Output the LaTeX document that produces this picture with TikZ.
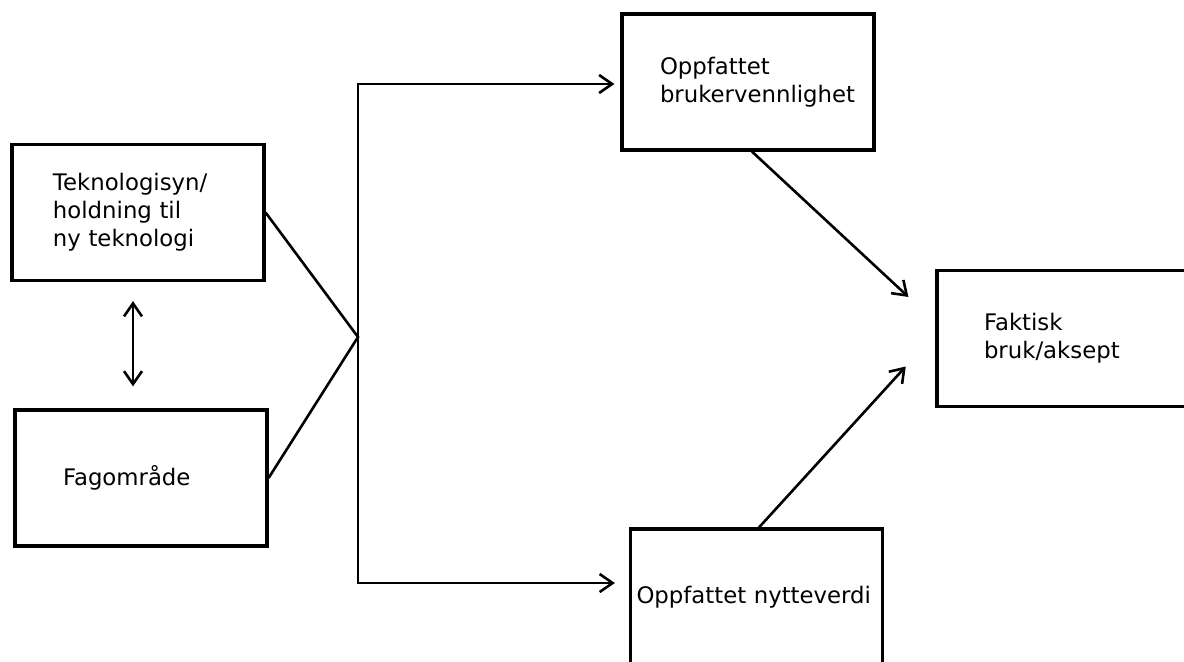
\documentclass[tikz,border=0pt]{standalone}
\usepackage{fontspec}
\setmainfont{DejaVu Sans}
\usepackage{tikz}
\usetikzlibrary{arrows.meta}
\tikzstyle{boks} = [
    draw=black,
    line width=1.6pt,
    rectangle,
    minimum width=126pt,
    minimum height=68pt,
    inner sep=0pt,
    align=left,
    font=\fontsize{11.4pt}{14pt}\selectfont
    ]
\tikzstyle{pil} = [
    line width=1.3pt,
    -{Straight Barb[length=6.5pt,width=9pt,line width=1.3pt]}
    ]

\begin{document}
\begin{tikzpicture}[x=0.5pt,y=-0.5pt]
\useasboundingbox (0,0) rectangle (1184,661);
% boxes
\node[boks, text width=85pt] (tekno) at (138,212.5) {Teknologisyn/\\holdning til\\ny teknologi};
\node[boks, text width=78pt] (fag) at (141,478) {Fagområde};
\node[boks, text width=88pt] (bruker) at (748,82) {Oppfattet\\brukervennlighet};
\node[boks, text width=79pt] (faktisk) at (1063,338.5) {Faktisk\\bruk/aksept};
\node[boks, text width=120pt] (nytte) at (756.5,597) {Oppfattet nytteverdi};
% junction
\coordinate (junc) at (358,337);
\coordinate (topp) at (358,84);
\coordinate (bunn) at (358,583);
\draw[line width=1.3pt] (tekno.east) -- (junc) -- (fag.east);
\draw[pil, {Straight Barb[length=6.5pt,width=9pt,line width=1.3pt]}-{Straight Barb[length=6.5pt,width=9pt,line width=1.3pt]},
      shorten <=7pt, shorten >=3pt]
    (nytte.west |- bunn) -- (bunn) -- (topp) -- (bruker.west |- topp);
% double arrow
\draw[pil, {Straight Barb[length=6.5pt,width=9pt,line width=1.3pt]}-{Straight Barb[length=6.5pt,width=9pt,line width=1.3pt]},
      shorten <=9.5pt, shorten >=11pt]
    ([xshift=-2.5pt]tekno.south) -- ([xshift=-2.5pt]tekno.south |- fag.north);
% to actual use
\draw[pil, shorten >=18.4pt] ([xshift=2pt]bruker.south) -- ([yshift=8.25pt]faktisk.west);
\draw[pil, shorten >=22pt] ([xshift=1.25pt]nytte.north) -- ([yshift=2.25pt]faktisk.west);
\end{tikzpicture}
\end{document}
